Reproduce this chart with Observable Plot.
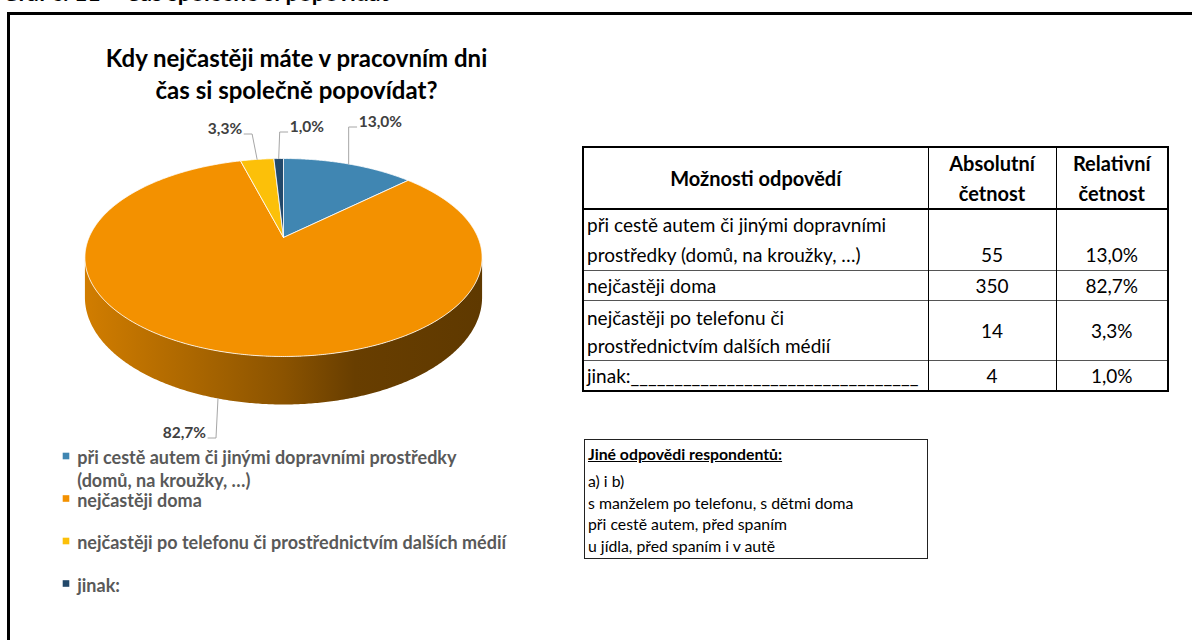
<!DOCTYPE html>
<html>
<head>
<meta charset="utf-8">
<script src="https://cdn.jsdelivr.net/npm/d3@7"></script>
<script src="https://cdn.jsdelivr.net/npm/@observablehq/plot@0.6"></script>
<style>
html, body { margin: 0; padding: 0; background: #fff; }
#page { position: relative; width: 1192px; height: 640px; overflow: hidden; font-family: Lato, "Noto Sans", sans-serif; }
#chart { position: absolute; left: 0; top: 0; }
#frame { position: absolute; left: 7px; top: 12px; width: 1400px; height: 900px; border-left: 3px solid #000; border-top: 3px solid #000; pointer-events: none; }
#cut { position: absolute; left: 2px; top: -19px; font: bold 23px Lato, sans-serif; line-height: 23px; white-space: nowrap; color: #000; }
#freq { position: absolute; left: 582px; top: 146px; border-collapse: collapse; table-layout: fixed; font: 19px Lato, sans-serif; color: #000; border: 2px solid #000; }
#freq th, #freq td { padding: 0 3px; white-space: pre-line; vertical-align: bottom; overflow: hidden; }
#freq th { font-weight: bold; font-size: 20px; line-height: 30px; height: 60px; border-bottom: 2px solid #000; text-align: center; }
#freq th.c0 { vertical-align: middle; }
#freq td { line-height: 29px; border-top: 1px solid #555; }
#freq td.c0 { text-align: left; white-space: pre; }
#freq td.c1, #freq td.c2 { text-align: center; }
#freq .c0, #freq .c1 { border-right: 1.5px solid #000; }
#freq tr.r0 td { height: 60px; line-height: 30px; }
#freq tr.r1 td { height: 27px; }
#freq tr.r2 td { height: 59px; line-height: 28px; }
#freq tr.r2 td.c1, #freq tr.r2 td.c2 { vertical-align: middle; }
#freq tr.r3 td { height: 27px; }
#other { position: absolute; left: 584px; top: 439px; width: 339px; height: 118px; border: 1.5px solid #222; padding: 0 0 0 3px; font: 15.8px Lato, sans-serif; line-height: 21.5px; color: #000; }
#other .t { font-weight: bold; text-decoration: underline; margin-top: 3px; margin-bottom: 5.5px; }
</style>
</head>
<body>
<div id="page"></div>
<script>
// ---------- data ----------
const captionText = "Graf č. 11 – Čas společně si popovídat";
const titleLines = ["Kdy nejčastěji máte v pracovním dni", "čas si společně popovídat?"];
const legendLabels = [
  "při cestě autem či jinými dopravními prostředky\n(domů, na kroužky, …)",
  "nejčastěji doma",
  "nejčastěji po telefonu či prostřednictvím dalších médií",
  "jinak:"
];
const tableLabels = [
  "při cestě autem či jinými dopravními\nprostředky (domů, na kroužky, …)",
  "nejčastěji doma",
  "nejčastěji po telefonu či\nprostřednictvím dalších médií",
  "jinak:_________________________________"
];
const tableHeader = ["Možnosti odpovědí", "Absolutní\nčetnost", "Relativní\nčetnost"];
const counts = [55, 350, 14, 4];
const relative = [13.0, 82.7, 3.3, 1.0];
const sliceColors = ["#4086b2", "#f39100", "#fcc009", "#22486a"];
const otherTitle = "Jiné odpovědi respondentů:";
const otherAnswers = [
  "a) i b)",
  "s manželem po telefonu, s dětmi doma",
  "při cestě autem, před spaním",
  "u jídla, před spaním i v autě"
];

// ---------- layout (not data) ----------
const W = 1192, H = 640;
const PIE = {cx: 283, cy: 237, D: 4.95, K: 962.7, A: 470, Hh: 189.6};
const fmtPct = v => v.toFixed(1).replace(".", ",") + "%";

function proj(theta, lev) {
  const X = Math.sin(theta), Z = Math.cos(theta), w = PIE.D + Z;
  return {x: PIE.cx + PIE.K * X / w, y: PIE.cy - (PIE.A * Z + PIE.Hh * lev) / w};
}

const arcs = d3.pie().sort(null).startAngle(0).endAngle(2 * Math.PI)(counts);
const step = Math.PI / 360;
function arcPts(a0, a1, lev) {
  const n = Math.max(2, Math.ceil((a1 - a0) / step));
  return d3.range(n + 1).map(i => proj(a0 + (a1 - a0) * i / n, lev));
}

// visible wall range (front silhouette)
const tR = Math.acos(-1 / PIE.D), tL = 2 * Math.PI - tR;

const tops = [], walls = [];
arcs.forEach((a, i) => {
  const apex = {x: PIE.cx, y: PIE.cy};
  const pts = [apex, ...arcPts(a.startAngle, a.endAngle, 0), apex];
  pts.forEach(p => tops.push({...p, k: i}));
  const w0 = Math.max(a.startAngle, tR), w1 = Math.min(a.endAngle, tL);
  if (w1 > w0) {
    const wp = [...arcPts(w0, w1, 0), ...arcPts(w0, w1, -1).reverse()];
    wp.push(wp[0]);
    walls.push({k: i, pts: wp});
  }
});

// label placement per slice (blue, orange, yellow, navy)
const labelFs = 15.5;
const labelInfo = [
  {baseline: 126, dx: 0, side: 1},
  {baseline: 437, dx: -2, side: -1},
  {baseline: 133, dx: -5, side: -1},
  {baseline: 131, dx: 1, side: 1}
];
const leaders = [], labels = [];
arcs.forEach((a, i) => {
  const mid = (a.startAngle + a.endAngle) / 2;
  const front = mid > tR && mid < tL;
  const anc = proj(mid, front ? -1 : 0);
  const L = labelInfo[i];
  const ex = anc.x + L.dx, ey = L.baseline + 0.5;
  const hx = ex + L.side * 8;
  [anc, {x: ex, y: ey}, {x: hx, y: ey}].forEach(p => leaders.push({...p, k: i}));
  labels.push({x: hx + L.side * 2, y: L.baseline - 0.71 * labelFs, text: fmtPct(relative[i]), side: L.side});
});

// legend
const legendFs = 18;
const legendRows = legendLabels.map((t, i) => {
  const base = 460.7 + i * 42.5;
  return {text: t, color: sliceColors[i], yTop: base - 0.71 * legendFs, sq: base - 4.7};
});

function shade(c, f) {
  const r = d3.rgb(c);
  return d3.rgb(r.r * f, r.g * f, r.b * f).formatHex();
}

const defsMark = () => {
  const defs = d3.create("svg:defs");
  walls.forEach(wl => {
    const c = sliceColors[wl.k];
    const g = defs.append("linearGradient").attr("id", "wallGrad" + wl.k)
      .attr("x1", 0).attr("x2", 1).attr("y1", 0).attr("y2", 0);
    [[0, 0.86], [0.35, 0.66], [0.5, 0.57], [0.68, 0.43], [1, 0.39]].forEach(([o, f]) =>
      g.append("stop").attr("offset", o).attr("stop-color", shade(c, f)));
  });
  return defs.node();
};

const labelStyle = {x: "x", y: "y", text: "text", lineAnchor: "top", fontSize: labelFs, fontWeight: "bold", fill: "#404040"};
const titleFs = 24;
const marks = [
  defsMark,
  ...walls.map(wl => Plot.line(wl.pts, {x: "x", y: "y", fill: `url(#wallGrad${wl.k})`, stroke: "none", curve: "linear"})),
  ...arcs.map((a, i) => Plot.line(tops.filter(d => d.k === i), {x: "x", y: "y", fill: sliceColors[i], stroke: "#ffffff", strokeWidth: 1, strokeOpacity: 0.8, curve: "linear"})),
  Plot.line(leaders, {x: "x", y: "y", z: "k", stroke: "#a6a6a6", strokeWidth: 1, curve: "linear"}),
  Plot.text(labels.filter(d => d.side > 0), {...labelStyle, textAnchor: "start"}),
  Plot.text(labels.filter(d => d.side < 0), {...labelStyle, textAnchor: "end"}),
  Plot.text([titleLines.join("\n")], {x: () => 296, y: () => 61 - 0.71 * titleFs, text: d => d, lineAnchor: "top", textAnchor: "middle", fontSize: titleFs, fontWeight: "bold", lineHeight: 32 / titleFs, fill: "#000"}),
  Plot.rect(legendRows, {x1: () => 62.7, x2: () => 69.3, y1: d => d.sq - 3.3, y2: d => d.sq + 3.3, fill: "color"}),
  Plot.text(legendRows, {x: () => 76.7, y: "yTop", text: "text", textAnchor: "start", lineAnchor: "top", fontSize: legendFs, fontWeight: "bold", lineHeight: 22.4 / legendFs, fill: "#595959"})
];

const svg = Plot.plot({
  width: W, height: H, margin: 0,
  x: {type: "linear", domain: [0, W], range: [0, W], axis: null},
  y: {type: "linear", domain: [0, H], range: [0, H], axis: null},
  color: {type: "identity"},
  style: {background: "none", fontFamily: "Lato, 'Noto Sans', sans-serif", overflow: "visible"},
  marks
});

const page = d3.select("#page");
page.node().appendChild(svg);
d3.select(svg).attr("id", "chart");

page.append("div").attr("id", "cut").text(captionText);

// table
const tbl = page.append("table").attr("id", "freq");
const cg = tbl.append("colgroup");
[345, 128, 112].forEach(w => cg.append("col").style("width", w + "px"));
const hr = tbl.append("tr");
tableHeader.forEach((h, i) => hr.append("th").attr("class", "c" + i).text(h));
tableLabels.forEach((lab, i) => {
  const tr = tbl.append("tr").attr("class", "r" + i);
  tr.append("td").attr("class", "c0").text(lab);
  tr.append("td").attr("class", "c1").text(String(counts[i]));
  tr.append("td").attr("class", "c2").text(fmtPct(relative[i]));
});

// other answers box
const box = page.append("div").attr("id", "other");
box.append("div").attr("class", "t").text(otherTitle);
otherAnswers.forEach(t => box.append("div").text(t));

page.append("div").attr("id", "frame");
</script>
</body>
</html>
